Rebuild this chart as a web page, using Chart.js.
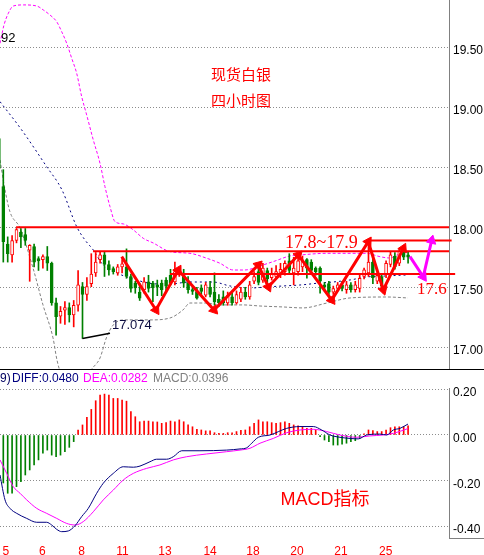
<!DOCTYPE html>
<html>
<head>
<meta charset="utf-8">
<script src="https://cdn.jsdelivr.net/npm/chart.js@4.4.1/dist/chart.umd.min.js"></script>
<style>
  html, body { margin: 0; padding: 0; background: #fff; overflow: hidden; }
  #main { position: absolute; left: 0; top: 0; }
  #macd { position: absolute; left: 0; top: 369px; }
</style>
</head>
<body>
<canvas id="main" width="484" height="369"></canvas>
<canvas id="macd" width="484" height="186"></canvas>
<script>
// 4h candles, silver spot
const openP = [18.74, 18.34, 17.86, 17.77, 17.89, 17.96, 17.94, 17.81, 17.84, 17.74,
  17.73, 17.755, 17.70, 17.37, 17.26, 17.31, 17.33, 17.27, 17.35, 17.505,
  17.44, 17.53, 17.62, 17.73, 17.77, 17.69, 17.655, 17.62, 17.67, 17.67,
  17.59, 17.535, 17.46, 17.48, 17.545, 17.535, 17.52, 17.535, 17.56, 17.60,
  17.545, 17.60, 17.60, 17.535, 17.48, 17.465, 17.495, 17.435, 17.50, 17.46,
  17.40, 17.42, 17.37, 17.42, 17.37, 17.40, 17.46, 17.42, 17.55, 17.63,
  17.56, 17.64, 17.58, 17.59, 17.61, 17.63, 17.72, 17.62, 17.63, 17.67,
  17.73, 17.71, 17.66, 17.66, 17.52, 17.53, 17.46, 17.49, 17.52, 17.48,
  17.52, 17.48, 17.49, 17.59, 17.62, 17.71, 17.55, 17.59, 17.61, 17.69,
  17.76, 17.70, 17.81, 17.77];
const highP = [18.78, 18.48, 17.92, 17.93, 17.99, 17.99, 17.99, 17.855, 17.86, 17.755,
  17.77, 17.84, 17.71, 17.41, 17.34, 17.38, 17.37, 17.39, 17.64, 17.54,
  17.58, 17.78, 17.79, 17.80, 17.80, 17.72, 17.67, 17.69, 17.73, 17.82,
  17.61, 17.55, 17.53, 17.58, 17.60, 17.55, 17.56, 17.56, 17.58, 17.65,
  17.71, 17.66, 17.65, 17.59, 17.50, 17.50, 17.52, 17.54, 17.55, 17.62,
  17.44, 17.47, 17.46, 17.45, 17.47, 17.50, 17.50, 17.55, 17.63, 17.68,
  17.70, 17.66, 17.66, 17.68, 17.70, 17.72, 17.78, 17.75, 17.78, 17.76,
  17.74, 17.73, 17.67, 17.67, 17.54, 17.55, 17.51, 17.54, 17.55, 17.55,
  17.54, 17.55, 17.60, 17.66, 17.88, 17.77, 17.62, 17.61, 17.72, 17.80,
  17.79, 17.82, 17.83, 17.80];
const lowP = [18.45, 17.71, 17.71, 17.71, 17.87, 17.83, 17.85, 17.55, 17.67, 17.64,
  17.66, 17.64, 17.35, 17.10, 17.20, 17.19, 17.21, 17.17, 17.30, 17.074,
  17.39, 17.505, 17.59, 17.70, 17.59, 17.60, 17.61, 17.60, 17.62, 17.575,
  17.46, 17.45, 17.39, 17.45, 17.46, 17.38, 17.43, 17.43, 17.47, 17.52,
  17.52, 17.59, 17.50, 17.45, 17.44, 17.40, 17.44, 17.42, 17.42, 17.35,
  17.34, 17.35, 17.35, 17.35, 17.36, 17.38, 17.40, 17.40, 17.53, 17.52,
  17.54, 17.52, 17.56, 17.57, 17.58, 17.60, 17.62, 17.52, 17.60, 17.63,
  17.575, 17.62, 17.60, 17.45, 17.47, 17.44, 17.44, 17.47, 17.47, 17.45,
  17.46, 17.46, 17.46, 17.57, 17.59, 17.53, 17.53, 17.49, 17.58, 17.67,
  17.65, 17.68, 17.73, 17.70];
const closeP = [18.49, 17.88, 17.78, 17.89, 17.98, 17.92, 17.89, 17.85, 17.71, 17.72,
  17.755, 17.70, 17.37, 17.255, 17.30, 17.33, 17.27, 17.35, 17.52, 17.44,
  17.505, 17.61, 17.71, 17.77, 17.69, 17.645, 17.63, 17.67, 17.695, 17.59,
  17.49, 17.495, 17.41, 17.545, 17.49, 17.495, 17.50, 17.48, 17.51, 17.535,
  17.63, 17.645, 17.535, 17.48, 17.465, 17.41, 17.465, 17.52, 17.44, 17.38,
  17.37, 17.37, 17.43, 17.37, 17.44, 17.46, 17.42, 17.52, 17.59, 17.54,
  17.66, 17.57, 17.61, 17.63, 17.65, 17.70, 17.64, 17.66, 17.72, 17.72,
  17.66, 17.64, 17.63, 17.55, 17.50, 17.46, 17.49, 17.52, 17.49, 17.52,
  17.48, 17.52, 17.575, 17.645, 17.71, 17.58, 17.60, 17.51, 17.70, 17.77,
  17.67, 17.80, 17.75, 17.75];

// bollinger bands, [bar index, price]
const upperBand = [[0.25, 19.533], [1.16, 19.686], [2.14, 19.783], [3.27, 19.844], [5.55, 19.853],
  [8.59, 19.844], [10.09, 19.811], [11.61, 19.769], [13.14, 19.713], [14.27, 19.63],
  [15.41, 19.533], [16.55, 19.408], [17.68, 19.283], [18.82, 19.088], [19.95, 18.936],
  [21.45, 18.728], [22.98, 18.533], [24.11, 18.338], [25.25, 18.172], [26.39, 18.047],
  [28.27, 18.028], [30.55, 17.978], [32.82, 17.908], [35.09, 17.869], [38.89, 17.797],
  [43.43, 17.783], [47.23, 17.742], [50.25, 17.70], [53.27, 17.644], [55.93, 17.644],
  [59.34, 17.678], [62.75, 17.719], [66.16, 17.761], [68.43, 17.769], [74.5, 17.783],
  [79.8, 17.783], [83.6, 17.783], [86.61, 17.755], [88.89, 17.744], [90.48, 17.769],
  [92.98, 17.794]];
const midBand = [[0.25, 19.047], [5.18, 18.811], [10.86, 18.505], [14.34, 18.311], [17.68, 18.005],
  [19.57, 17.894], [21.45, 17.811], [23.66, 17.686], [26.84, 17.619], [30.48, 17.569],
  [35.93, 17.528], [38.89, 17.528], [43.43, 17.544], [48.66, 17.544], [52.52, 17.511],
  [57.07, 17.494], [60.93, 17.503], [64.57, 17.511], [68.43, 17.519], [72.98, 17.536],
  [75.93, 17.544], [79.8, 17.561], [83.66, 17.586], [87.75, 17.594], [92.98, 17.603]];
const lowerBand = [[0.25, 18.561], [1.39, 18.311], [2.52, 18.128], [4.8, 17.994], [7.75, 17.661],
  [10.02, 17.353], [12.3, 17.078], [13.2, 16.894], [15.02, 16.686], [17.3, 16.603],
  [19.57, 16.686], [20.7, 16.794], [22.98, 16.911], [24.5, 17.086], [26.0, 17.186],
  [28.27, 17.228], [32.07, 17.228], [34.34, 17.228], [38.89, 17.244], [41.84, 17.311],
  [43.43, 17.369], [47.3, 17.369], [49.57, 17.353], [55.48, 17.353], [59.34, 17.344],
  [64.57, 17.336], [69.11, 17.328], [74.57, 17.369], [79.8, 17.411], [88.2, 17.419],
  [92.98, 17.411]];

// drawn levels and arrows
const levelPrice = [18.0, 17.89, 17.8, 17.61];
const levelFrom = [3.9, 84.3, 21.4, 38.9];
const levelTo = [102.3, 102.9, 102.3, 103.7];
const zigzag = [[27.91, 17.755], [35.7, 17.311], [40.77, 17.644], [48.89, 17.311], [58.95, 17.686],
  [61.23, 17.503], [68.05, 17.769], [75.64, 17.394], [83.95, 17.88], [87.36, 17.478], [91.91, 17.825]];
const forecast = [[93.43, 17.755], [96.45, 17.588], [98.36, 17.89]];

// MACD(12,26,9)
const histVals = [-0.19, -0.21, -0.255, -0.255, -0.226, -0.204, -0.175, -0.153, -0.131, -0.109,
  -0.080, -0.066, -0.088, -0.095, -0.088, -0.073, -0.054, -0.029, 0.022, 0.044,
  0.077, 0.112, 0.150, 0.175, 0.179, 0.175, 0.160, 0.160, 0.153, 0.148,
  0.102, 0.080, 0.058, 0.061, 0.061, 0.058, 0.057, 0.051, 0.054, 0.061,
  0.058, 0.066, 0.058, 0.044, 0.036, 0.025, 0.022, 0.018, 0.018, 0.010,
  0.007, 0.007, 0.010, 0.010, 0.015, 0.020, 0.022, 0.036, 0.051, 0.066,
  0.058, 0.058, 0.054, 0.051, 0.054, 0.058, 0.051, 0.044, 0.040, 0.036,
  0.029, 0.029, 0.022, -0.007, -0.022, -0.029, -0.044, -0.044, -0.040, -0.036,
  -0.029, -0.025, -0.015, 0.005, 0.022, 0.019, 0.015, 0.015, 0.022, 0.032,
  0.036, 0.036, 0.036, 0.0396];
const diffPts = [[0.25, -0.175], [1.39, -0.284], [2.52, -0.321], [4.05, -0.343], [6.32, -0.365],
  [8.59, -0.382], [10.86, -0.382], [12, -0.394], [13.14, -0.413], [14.27, -0.423],
  [15.77, -0.42], [17.3, -0.397], [18.82, -0.357], [20.32, -0.321], [22.23, -0.255],
  [23.73, -0.211], [26, -0.168], [28.27, -0.139], [30.55, -0.141], [32.07, -0.136],
  [34.34, -0.117], [35.86, -0.106], [38.14, -0.106], [39.64, -0.095], [41.55, -0.069],
  [45.7, -0.069], [51.77, -0.066], [54.8, -0.061], [56.32, -0.056], [57.45, -0.036],
  [58.95, -0.010], [61.61, 0.0], [65.41, 0.029], [68.43, 0.037], [71.45, 0.037],
  [73.36, 0.022], [75.25, 0.0], [77.52, -0.01], [79.8, -0.015], [81.68, -0.017],
  [83.59, 0.0], [86.61, 0.004], [88.14, 0.0], [89.64, 0.022], [91.16, 0.029], [92.98, 0.048]];
const deaPts = [[0.25, -0.109], [1.77, -0.168], [3.27, -0.226], [4.8, -0.255], [6.32, -0.284],
  [8.59, -0.321], [10.86, -0.343], [13.14, -0.365], [15.41, -0.387], [17.3, -0.394],
  [19.18, -0.379], [21.45, -0.336], [23.73, -0.284], [26, -0.241], [28.27, -0.197],
  [30.55, -0.168], [33.59, -0.146], [36.61, -0.131], [39.64, -0.109], [42.68, -0.095],
  [47.23, -0.083], [51.77, -0.073], [54.8, -0.066], [57.07, -0.058], [59.34, -0.036],
  [62.36, -0.015], [65.41, 0.01], [68.43, 0.022], [71.45, 0.025], [74.5, 0.015],
  [77.52, 0.0], [81.32, -0.01], [84.34, -0.004], [87.36, 0.0], [89.64, 0.007], [92.98, 0.0282]];

const dayLabels = ["5", "6", "8", "11", "13", "14", "18", "20", "21", "25"];
const dayTicks = [1.6, 9.9, 18.8, 28.1, 37.75, 48, 57.75, 67.75, 77.75, 87.9];
const priceTicks = [17, 17.5, 18, 18.5, 19, 19.5];
const macdTicks = [-0.4, -0.2, 0, 0.2];

const RED = "#ff0000";
const GREEN = "#008000";
const X_MIN = 0.25, X_MAX = 102.3;

const idx = openP.map((_, i) => i);
const isUp = idx.map(i => closeP[i] >= openP[i]);
const toXY = arr => arr.map(p => ({ x: p[0], y: p[1] }));
let lowIdx = 0;
lowP.forEach((v, i) => { if (v < lowP[lowIdx]) lowIdx = i; });

function arrowRot(ctx) {
  const d = ctx.dataset.data, k = ctx.dataIndex;
  if (k === 0) return 0;
  const sx = ctx.chart.scales.x, sy = ctx.chart.scales.y;
  const dx = sx.getPixelForValue(d[k].x) - sx.getPixelForValue(d[k - 1].x);
  const dy = sy.getPixelForValue(d[k].y) - sy.getPixelForValue(d[k - 1].y);
  return Math.atan2(dx, -dy) * 180 / Math.PI;
}

function band(data, color, dash) {
  return {
    type: "line", data: toXY(data), borderColor: color, borderWidth: 1,
    borderDash: dash, pointRadius: 0, cubicInterpolationMode: "monotone", order: 6
  };
}

function arrowSet(data, color) {
  return {
    type: "line", data: toXY(data), borderColor: color, borderWidth: 3,
    pointStyle: "triangle", pointRadius: c => c.dataIndex === 0 ? 0 : 5.5,
    pointRotation: arrowRot, pointBackgroundColor: color, pointBorderColor: color,
    pointBorderWidth: 1, order: 2, clip: false
  };
}

const levelSets = levelPrice.map((p, k) => ({
  type: "line",
  data: [{ x: levelFrom[k], y: p }, { x: levelTo[k], y: p }],
  borderColor: RED, borderWidth: 2, pointRadius: 0, order: 3, clip: false
}));

function rightAxis(min, max, tickVals, labelOffset) {
  return {
    position: "right", min: min, max: max,
    afterBuildTicks: s => { s.ticks = tickVals.map(v => ({ value: v })); },
    afterFit: s => { s.width = 35; s.paddingTop = 0; s.paddingBottom = 0; },
    grid: { color: "#8c8c8c", lineWidth: 1, drawTicks: false },
    border: { display: true, color: "#808080", width: 1, dash: [1, 2] },
    ticks: {
      color: "#000", padding: 4, labelOffset: labelOffset,
      font: { family: "Liberation Sans", size: 12 },
      callback: v => v.toFixed(2)
    }
  };
}

const mainText = {
  id: "mainText",
  afterDatasetsDraw(chart) {
    const { ctx } = chart;
    const sx = chart.scales.x, sy = chart.scales.y;
    ctx.save();
    ctx.fillStyle = RED;
    ctx.font = '15px "Noto Sans CJK SC"';
    ctx.textAlign = "center";
    ctx.textBaseline = "middle";
    ctx.fillText("现货白银", 241, 74);
    ctx.fillText("四小时图", 241, 100);

    ctx.textAlign = "left";
    ctx.textBaseline = "alphabetic";
    ctx.font = '18px "Liberation Serif"';
    ctx.fillText("17.8~17.9", sx.getPixelForValue(65.0), sy.getPixelForValue(17.83));
    ctx.font = '17px "Liberation Serif"';
    ctx.fillText("17.6", sx.getPixelForValue(95), sy.getPixelForValue(17.444));

    ctx.font = '13px "Liberation Sans"';
    ctx.fillStyle = "#0c0c40";
    ctx.fillText(lowP[lowIdx].toFixed(3), sx.getPixelForValue(25.7), sy.getPixelForValue(17.15));
    ctx.fillStyle = "#000";
    ctx.fillText("92", 1, 42);
    ctx.restore();
  }
};

new Chart(document.getElementById("main"), {
  type: "bar",
  data: {
    datasets: [
      band(upperBand, "#ff00ff", [3, 2]),
      band(midBand, "#000080", [2, 3]),
      band(lowerBand, "#808080", [3, 2]),
      {
        data: idx.map(i => ({ x: i, y: [lowP[i], highP[i]] })),
        backgroundColor: idx.map(i => isUp[i] ? RED : GREEN),
        barThickness: 1, grouped: false, order: 5
      },
      {
        data: idx.map(i => ({ x: i, y: [openP[i], closeP[i]] })),
        backgroundColor: idx.map(i => isUp[i] ? "#ffffff" : GREEN),
        borderColor: idx.map(i => isUp[i] ? RED : GREEN),
        borderWidth: 1, borderSkipped: false,
        barThickness: 3, grouped: false, order: 4
      },
      ...levelSets,
      arrowSet(zigzag, RED),
      arrowSet(forecast, "#ff00ff"),
      {
        type: "line",
        data: [{ x: lowIdx, y: lowP[lowIdx] }, { x: 25.25, y: 17.117 }],
        borderColor: "#000", borderWidth: 1.5, pointRadius: 0, order: 1
      }
    ]
  },
  options: {
    responsive: false,
    animation: false,
    events: [],
    layout: { padding: 0, autoPadding: false },
    plugins: { legend: { display: false }, tooltip: { enabled: false } },
    scales: {
      x: { type: "linear", display: false, offset: false, min: X_MIN, max: X_MAX },
      y: rightAxis(16.819, 19.894, priceTicks, 3.4)
    }
  },
  plugins: [mainText]
});

const macdText = {
  id: "macdText",
  afterDraw(chart) {
    const { ctx, chartArea } = chart;
    ctx.save();
    ctx.fillStyle = "#000";
    ctx.fillRect(0, 0, 484, 1);
    ctx.fillStyle = "#808080";
    ctx.fillRect(chartArea.right, chartArea.bottom, 484 - chartArea.right, 1);

    ctx.font = '12px "Liberation Sans"';
    ctx.textAlign = "left";
    ctx.textBaseline = "middle";
    ctx.fillStyle = "#000060";
    ctx.fillText("9)", 0, 10);
    ctx.fillStyle = "#000080";
    ctx.fillText("DIFF:" + diffPts[diffPts.length - 1][1].toFixed(4), 12, 10);
    ctx.fillStyle = "#ff00ff";
    ctx.fillText("DEA:" + deaPts[deaPts.length - 1][1].toFixed(4), 83, 10);
    ctx.fillStyle = "#808080";
    ctx.fillText("MACD:" + histVals[histVals.length - 1].toFixed(4), 153, 10);

    ctx.fillStyle = RED;
    ctx.font = '18px "Liberation Sans", "Noto Sans CJK SC"';
    ctx.textAlign = "center";
    ctx.fillText("MACD指标", 325, 131);
    ctx.restore();
  }
};

new Chart(document.getElementById("macd"), {
  type: "bar",
  data: {
    datasets: [
      {
        data: histVals.map((v, i) => ({ x: i, y: v })),
        backgroundColor: histVals.map(v => v >= 0 ? RED : GREEN),
        barThickness: 1, grouped: false, order: 2
      },
      {
        type: "line", data: toXY(deaPts), borderColor: "#ff00ff", borderWidth: 1,
        pointRadius: 0, cubicInterpolationMode: "monotone", order: 1
      },
      {
        type: "line", data: toXY(diffPts), borderColor: "#000080", borderWidth: 1,
        pointRadius: 0, cubicInterpolationMode: "monotone", order: 0
      }
    ]
  },
  options: {
    responsive: false,
    animation: false,
    events: [],
    layout: { padding: { top: 19 }, autoPadding: false },
    plugins: { legend: { display: false }, tooltip: { enabled: false } },
    scales: {
      x: {
        type: "linear", offset: false, min: X_MIN, max: X_MAX,
        afterBuildTicks: s => { s.ticks = dayTicks.map(v => ({ value: v })); },
        afterFit: s => { s.height = 17; s.paddingLeft = 0; s.paddingRight = 0; },
        grid: { display: false },
        border: { display: false },
        ticks: {
          color: RED, padding: -2, autoSkip: false, maxRotation: 0,
          font: { family: "Liberation Sans", size: 12 },
          callback: (v, i) => dayLabels[i]
        }
      },
      y: rightAxis(-0.4508, 0.2057, macdTicks, 3.6)
    }
  },
  plugins: [macdText]
});
</script>
</body>
</html>
